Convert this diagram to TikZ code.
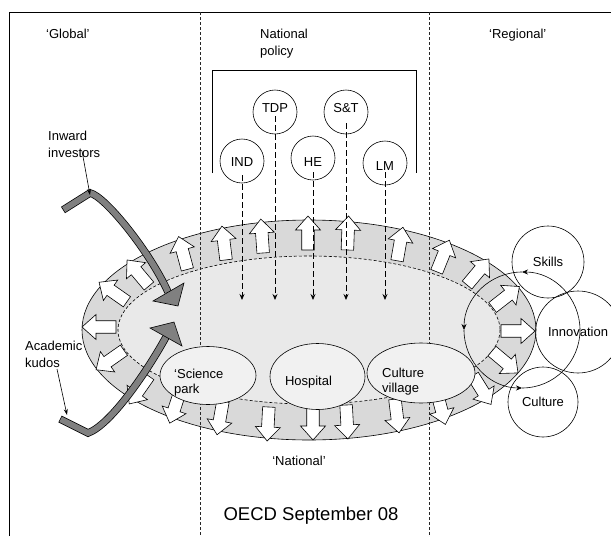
\documentclass[tikz,border=0pt]{standalone}
\usepackage{fontspec}
\setmainfont{Liberation Sans}
\usetikzlibrary{arrows.meta,shapes.geometric}
\definecolor{ringgray}{HTML}{D9D9D9}
\definecolor{innergray}{HTML}{E9E9E9}
\definecolor{nodegray}{HTML}{F1F1F1}
\definecolor{bandgray}{HTML}{808080}
\newcommand{\blockarr}[3]{\begin{scope}[shift={(#1,#2)},rotate=#3]\draw[warrow] (-17,-6.25) -- (3,-6.25) -- (3,-12.5) -- (17,0) -- (3,12.5) -- (3,6.25) -- (-17,6.25) -- cycle;\end{scope}}
\begin{document}
\begin{tikzpicture}[x=1pt,y=-1pt,
  lbl/.style={inner sep=0pt, font=\fontsize{13}{15}\selectfont},
  pcirc/.style={draw, circle, minimum size=44pt, inner sep=0pt, line width=0.6pt},
  rcirc/.style={draw, circle, inner sep=0pt, line width=0.6pt, font=\fontsize{13}{15}\selectfont},
  rell/.style={draw, ellipse, inner sep=0pt, line width=0.6pt, font=\fontsize{13}{15}\selectfont},
  nell/.style={draw, ellipse, fill=nodegray, inner sep=0pt, line width=0.6pt},
  warrow/.style={draw, fill=white, line width=0.6pt, line join=miter},
  parrow/.style={dash pattern=on 6pt off 3pt, line width=0.8pt, -{Stealth[length=6pt,width=5pt]}},
  bline/.style={dash pattern=on 3pt off 2pt, line width=0.7pt, black!85},
  thinarrow/.style={line width=0.6pt, -{Stealth[length=6pt,width=4pt]}},
  cycarrow/.style={line width=0.6pt, -{Stealth[length=6pt,width=5pt]}},
  band/.style={line width=7.5pt, line join=miter},
  bandin/.style={line width=6pt, bandgray, line join=miter},
]
\useasboundingbox (0,0) rectangle (611,536);
% frame
\draw[line width=0.7pt] (9,536) -- (9,12) -- (611,12);
% big ellipse
\fill[ringgray] (309,330) ellipse[x radius=227, y radius=110];
\draw[line width=0.6pt] (309,330) ellipse[x radius=227, y radius=110];
\fill[innergray] (309,330) ellipse[x radius=191, y radius=74];
\draw[dash pattern=on 3pt off 2pt, line width=0.6pt] (309,330) ellipse[x radius=191, y radius=74];
% white block arrows
\blockarr{113}{292}{145}
\blockarr{138}{273}{130}
\blockarr{183}{253}{105}
\blockarr{224}{243}{97}
\blockarr{262}{236}{94}
\blockarr{308}{233}{90}
\blockarr{348}{233}{88}
\blockarr{400}{244}{80}
\blockarr{443}{256}{68}
\blockarr{478}{272}{50}
\blockarr{506}{297}{38}
\blockarr{518}{331}{0}
\blockarr{505}{362}{-40}
\blockarr{482}{390}{-58}
\blockarr{441}{408}{-75}
\blockarr{397}{416}{-83}
\blockarr{347}{422}{-87}
\blockarr{313}{423}{-90}
\blockarr{268}{424}{-93}
\blockarr{220}{418}{-100}
\blockarr{175}{407}{-108}
\blockarr{139}{390}{-125}
\blockarr{110}{360}{-145}
\blockarr{99}{327}{180}
% region boundaries
\draw[bline] (200,12) -- (200,536);
\draw[bline] (429,12) -- (429,536);
% bracket
\draw[line width=0.7pt] (212,173) -- (212,70) -- (416,70) -- (416,173);
% policy circles
\node[pcirc] (tdp) at (275,112) {};
\node[pcirc] (st) at (346,112) {};
\node[pcirc] (ind) at (242,161) {};
\node[pcirc] (he) at (313,158) {};
\node[pcirc] (lm) at (385,163) {};
\node[lbl] (tdpl) at (275,108) {TDP};
\node[lbl] (stl) at (346,108) {S\&T};
\node[lbl] (indl) at (242,162) {IND};
\node[lbl] (hel) at (313,162) {HE};
\node[lbl] (lml) at (385,166) {LM};
\coordinate (tdpe) at (275,300);
\coordinate (ste) at (346,300);
\coordinate (inde) at (242,300);
\coordinate (hee) at (313,300);
\coordinate (lme) at (385,300);
\draw[parrow] ([yshift=-4pt]tdp.center) -- (tdpe);
\draw[parrow] ([yshift=-11pt]st.center) -- (ste);
\draw[parrow] ([yshift=-14pt]ind.center) -- (inde);
\draw[parrow] ([yshift=-14pt]he.center) -- (hee);
\draw[parrow] ([yshift=-9pt]lm.center) -- (lme);
% local nodes
\node[nell, minimum width=96pt, minimum height=58pt] (sp) at (208,375.5) {};
\node[nell, minimum width=95pt, minimum height=66pt] (hosp) at (317.5,376.5) {};
\node[nell, minimum width=108pt, minimum height=60pt] (cv) at (421,373) {};
\node[lbl, anchor=base west] (spl1) at (174,378) {‘Science};
\node[lbl, anchor=base west] (spl2) at (174,393) {park};
\node[lbl, anchor=base] (hospl) at (308.5,385) {Hospital};
\node[lbl, anchor=base west] (cvl1) at (382,377) {Culture};
\node[lbl, anchor=base west] (cvl2) at (382,392) {village};
% gray band arrows
\coordinate (ia) at (63,210);
\coordinate (ib) at (90,193);
\coordinate (ic) at (168,292);
\draw[band] (ia) -- (ib) .. controls (105,196) and (150,252) .. (ic);
\draw[bandin, shorten <=0.75pt] (ia) -- (ib) .. controls (105,196) and (150,252) .. (ic);
\draw[fill=bandgray, line width=0.6pt, line join=miter] (153,301) -- (184,283) -- (178,306) -- cycle;
\coordinate (ka) at (60,419);
\coordinate (kb) at (88,433);
\coordinate (kc) at (166,337);
\draw[band] (ka) -- (kb) .. controls (110,425) and (145,375) .. (kc);
\draw[bandin, shorten <=0.75pt] (ka) -- (kb) .. controls (110,425) and (145,375) .. (kc);
\draw[fill=bandgray, line width=0.6pt, line join=miter] (150,328) -- (174,322) -- (182,346) -- cycle;
% right circles
\node[rcirc, minimum size=72pt] (skills) at (548,262) {Skills};
\node[rell, minimum width=76pt, minimum height=82pt] (innov) at (578,332) {Innovation};
\node[rcirc, minimum size=70pt] (cult) at (543,402) {Culture};
% cycle
\draw[cycarrow] (580,330) arc[start angle=0, end angle=-90, radius=58];
\draw[cycarrow] (522,272) arc[start angle=-90, end angle=-180, radius=58];
\draw[cycarrow] (464,330) arc[start angle=-180, end angle=-270, radius=58];
\draw[line width=0.6pt] (522,388) arc[start angle=-270, end angle=-360, radius=58];
% texts
\node[lbl, anchor=base west] (glob) at (46,38) {‘Global’};
\node[lbl, anchor=base west] (nat1) at (260,38) {National};
\node[lbl, anchor=base west] (nat2) at (260,55) {policy};
\node[lbl, anchor=base west] (reg) at (489,38) {‘Regional’};
\node[lbl, anchor=base west] (inv1) at (48,140) {Inward};
\node[lbl, anchor=base west] (inv2) at (48,157) {investors};
\node[lbl, anchor=base west] (ac1) at (25,350) {Academic};
\node[lbl, anchor=base west] (ac2) at (25,367) {kudos};
\node[lbl, anchor=base] (natl) at (299,465) {‘National’};
\node[inner sep=0pt, anchor=base, font=\fontsize{18.5}{22}\selectfont] (oecd) at (311,520) {OECD September 08};
% thin arrows
\coordinate (invs) at (82,151);
\coordinate (invt) at (90,195);
\draw[thinarrow] (invs) -- (invt);
\coordinate (kuds) at (57,369);
\coordinate (kudt) at (67,415);
\draw[thinarrow] (kuds) -- (kudt);
\end{tikzpicture}
\end{document}
